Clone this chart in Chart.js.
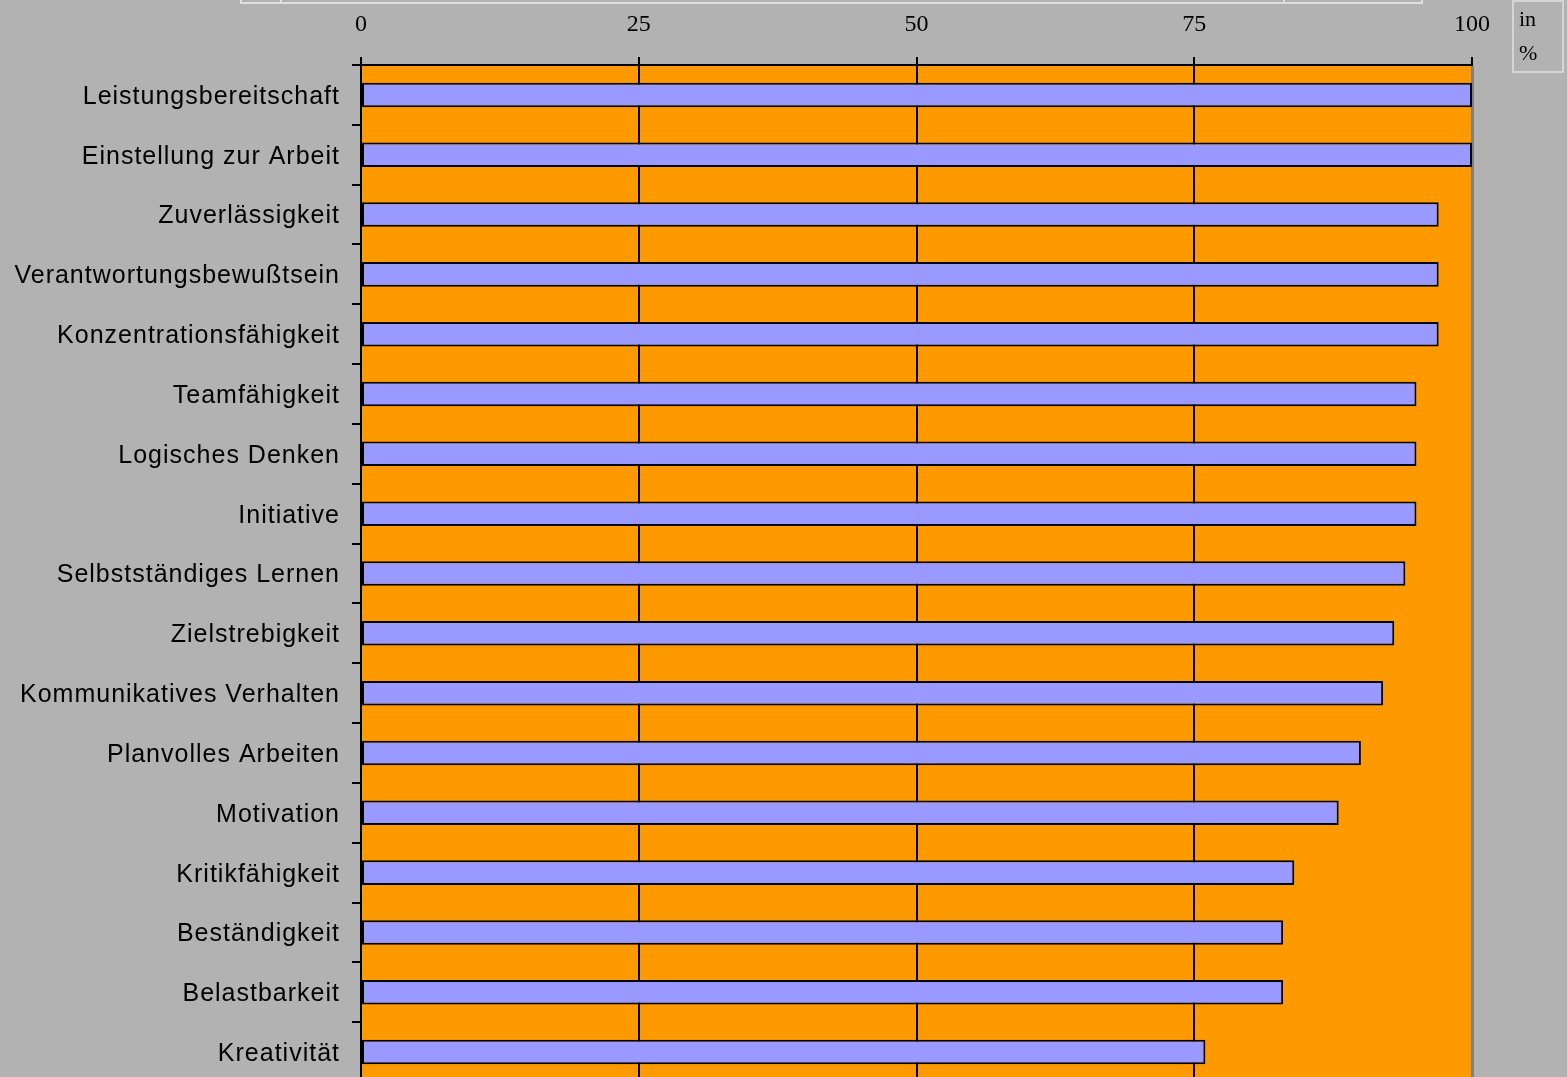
<!DOCTYPE html>
<html>
<head>
<meta charset="utf-8">
<script src="https://cdn.jsdelivr.net/npm/chart.js@4.4.1/dist/chart.umd.min.js"></script>
<style>
    html, body { margin: 0; padding: 0; background: #b2b2b2; overflow: hidden; }
    #wrap { position: absolute; left: 0; top: 0; width: 1567px; height: 1109px; }
    .frame { position: absolute; border: 2px solid #dedede; box-sizing: border-box; }
    .unit { position: absolute; left: 1512px; top: 0; width: 52px; height: 73px;
            border: 2px solid #d6d6d6; box-sizing: border-box;
            font-family: "Liberation Serif", "DejaVu Serif", serif; font-size: 22px;
            color: #000; line-height: 34px; padding-left: 5px; }
</style>
</head>
<body>
<div id="wrap"><canvas id="chart"></canvas></div>
<!-- angeschnittener Kasten oben -->
<div class="frame" style="left:240px; top:-40px; width:1183px; height:44px;"></div>
<div class="frame" style="left:280px; top:-40px; width:2px; height:44px; border-width:0 0 0 2px;"></div>
<div class="frame" style="left:1283px; top:-40px; width:2px; height:44px; border-width:0 0 0 2px;"></div>
<div class="unit">in<br>%</div>
<script>
const categories = [
    "Leistungsbereitschaft",
    "Einstellung zur Arbeit",
    "Zuverlässigkeit",
    "Verantwortungsbewußtsein",
    "Konzentrationsfähigkeit",
    "Teamfähigkeit",
    "Logisches Denken",
    "Initiative",
    "Selbstständiges Lernen",
    "Zielstrebigkeit",
    "Kommunikatives Verhalten",
    "Planvolles Arbeiten",
    "Motivation",
    "Kritikfähigkeit",
    "Beständigkeit",
    "Belastbarkeit",
    "Kreativität"
];
const werte = [100, 100, 97, 97, 97, 95, 95, 95, 94, 93, 92, 90, 88, 84, 83, 83, 76];
const xTicks = [0, 25, 50, 75, 100];

// orange Zeichenfläche + grauer rechter Rand
const flaeche = {
    id: "flaeche",
    beforeDraw(chart) {
        const { ctx, chartArea: a } = chart;
        ctx.save();
        ctx.fillStyle = "#ff9900";
        ctx.fillRect(a.left, a.top, a.right - a.left, a.bottom - a.top);
        ctx.restore();

        // etwas breitere Beschriftung links, wie im Original
        const y = chart.scales.y;
        if (!y._gesperrt) {
            const orig = y.drawLabels.bind(y);
            y.drawLabels = (area) => {
                ctx.save();
                ctx.letterSpacing = "1px";
                ctx.translate(0, 2);
                orig(area);
                ctx.restore();
            };
            y._gesperrt = true;
        }
    },
    afterDraw(chart) {
        const { ctx, chartArea: a } = chart;
        ctx.save();
        ctx.strokeStyle = "#808080";
        ctx.lineWidth = 2;
        ctx.beginPath();
        ctx.moveTo(a.right + 1, a.top + 1);
        ctx.lineTo(a.right + 1, a.bottom);
        ctx.stroke();
        ctx.restore();
    }
};

const canvas = document.getElementById("chart");
canvas.width = 1567;
canvas.height = 1109;

new Chart(canvas, {
    type: "bar",
    data: {
        labels: categories,
        datasets: [{
            data: werte,
            backgroundColor: "#9999ff",
            borderColor: "#000000",
            borderWidth: 2,
            borderSkipped: false,
            barPercentage: 0.41,
            categoryPercentage: 1.0
        }]
    },
    options: {
        indexAxis: "y",
        responsive: false,
        animation: false,
        layout: { padding: { left: 0, right: 95, top: 0, bottom: 18 } },
        plugins: { legend: { display: false }, tooltip: { enabled: false } },
        scales: {
            x: {
                position: "top",
                min: 0,
                max: 100,
                afterFit: (s) => { s.height = 65; },
                afterBuildTicks: (s) => { s.ticks = xTicks.map(v => ({ value: v })); },
                border: { display: true, color: "#000", width: 2 },
                grid: {
                    color: (c) => c.tick && c.tick.value === 100 ? "#808080" : "#000",
                    lineWidth: 2,
                    tickLength: 8,
                    tickColor: "#000"
                },
                ticks: {
                    color: "#000",
                    padding: 18,
                    font: { family: "'Liberation Serif', 'Times New Roman', serif", size: 24 }
                }
            },
            y: {
                afterFit: (s) => { s.width = 361; },
                border: { display: true, color: "#000", width: 2 },
                grid: {
                    offset: true,
                    drawOnChartArea: false,
                    tickLength: 9,
                    tickColor: "#000",
                    lineWidth: 2
                },
                ticks: {
                    color: "#000",
                    padding: 12,
                    font: { family: "'Liberation Sans', Arial, sans-serif", size: 25 }
                }
            }
        }
    },
    plugins: [flaeche]
});
</script>
</body>
</html>
